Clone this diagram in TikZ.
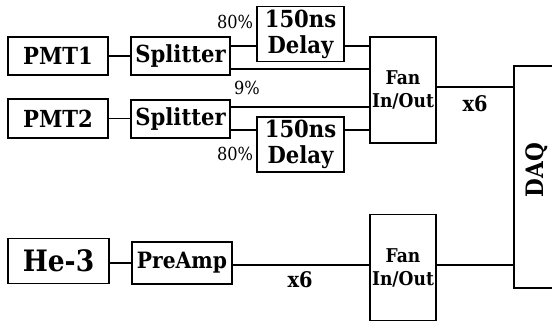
\documentclass[tikz,border=0pt]{standalone}
\usepackage{fontspec}
\setmainfont{DejaVu Serif Condensed}
\usetikzlibrary{positioning}

\begin{document}
\begin{tikzpicture}[
    x=1pt, y=-1pt,
    line width=1.2pt,
    blk/.style={rectangle, draw, inner sep=0pt, align=center,
                font=\bfseries\fontsize{23.5}{26}\selectfont},
    fan/.style={blk, minimum width=66pt, minimum height=106pt,
                font=\bfseries\fontsize{19}{23}\selectfont},
    pct/.style={font=\fontsize{18}{20}\selectfont, inner sep=0pt},
    mult/.style={font=\bfseries\fontsize{21.5}{24}\selectfont, inner sep=0pt},
  ]
    \useasboundingbox (0,0) rectangle (552,322);

    %% ── PMT channels ─────────────────────────────────────────
    \node[blk, minimum width=100pt, minimum height=38pt] (pmt1) at (58,56)    {PMT1};
    \node[blk, minimum width=99pt,  minimum height=38pt] (spl1) at (180.5,56) {Splitter};
    \node[blk, minimum width=87pt,  minimum height=55pt] (dly1) at (300.5,34) {150ns\\Delay};
    \node[blk, minimum width=100pt, minimum height=39pt] (pmt2) at (58,118.5) {PMT2};
    \node[blk, minimum width=99pt,  minimum height=38pt] (spl2) at (180.5,119) {Splitter};
    \node[blk, minimum width=87pt,  minimum height=55pt] (dly2) at (300.5,144.5) {150ns\\Delay};
    \node[fan] (fan1) at (403,90) {Fan\\In/Out};

    %% ── He-3 channel ─────────────────────────────────────────
    \node[blk, minimum width=101pt, minimum height=45pt,
          font=\bfseries\fontsize{29.5}{32}\selectfont] (he3) at (58.5,261) {He-3};
    \node[blk, minimum width=100pt, minimum height=42pt,
          font=\bfseries\fontsize{22.5}{25}\selectfont] (pre) at (182,263) {PreAmp};
    \node[fan] (fan2) at (403,267.5) {Fan\\In/Out};

    %% ── DAQ ──────────────────────────────────────────────────
    \node[blk, minimum width=48pt, minimum height=222pt] (daq) at (538,177) {};
    \node[blk, draw=none, rotate=90, font=\bfseries\fontsize{24}{26}\selectfont]
         (daqt) at (537,170) {DAQ};

    %% ── Labels ───────────────────────────────────────────────
    \node[pct]  (p80a) at (235,22)  {80\%};
    \node[pct]  (p9)   at (247,88)  {9\%};
    \node[pct]  (p80b) at (235,154) {80\%};
    \node[mult] (x6a)  at (475,104) {x6};
    \node[mult] (x6b)  at (300,280) {x6};

    %% ── Lines: PMT1 ──────────────────────────────────────────
    \draw (pmt1) -- (spl1);
    \draw ([yshift=10pt]spl1.east) -- ([yshift=-12pt]dly1.west);
    \draw ([yshift=-12pt]dly1.east) -- ([yshift=44pt]fan1.west);
    \draw ([yshift=-13pt]spl1.east) -- ([yshift=21pt]fan1.west);

    %% ── Lines: PMT2 ──────────────────────────────────────────
    \draw (pmt2.east) -- (pmt2.east -| spl2.west);
    \draw ([yshift=12pt]spl2.east) -- ([yshift=-17pt]fan1.west);
    \draw ([yshift=-11pt]spl2.east) -- ([yshift=14.5pt]dly2.west);
    \draw ([yshift=14.5pt]dly2.east) -- ([yshift=-40pt]fan1.west);
    \draw ([yshift=3pt]fan1.east) -- ([yshift=90pt]daq.west);

    %% ── Lines: He-3 ──────────────────────────────────────────
    \draw (he3.east |- pre.west) -- (pre.west);
    \draw ([yshift=-2pt]pre.east) -- ([yshift=2.5pt]fan2.west);
    \draw ([yshift=2.5pt]fan2.east) -- ([yshift=-88pt]daq.west);

\end{tikzpicture}
\end{document}
